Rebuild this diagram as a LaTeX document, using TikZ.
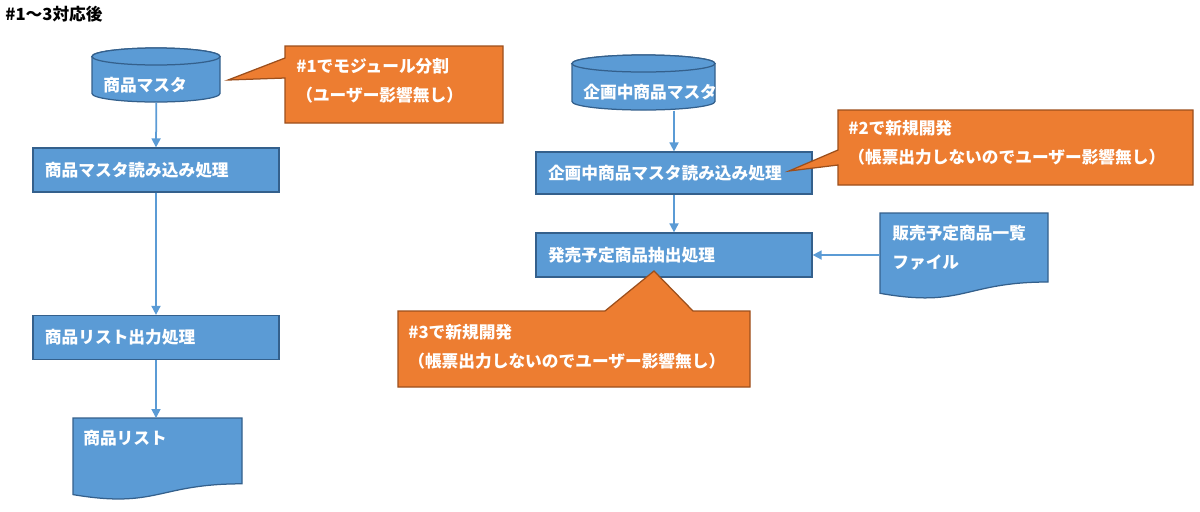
\documentclass[tikz,border=0pt]{standalone}
\usepackage{fontspec}
\setmainfont{Noto Sans CJK JP}
\usepackage{tikz}
\usetikzlibrary{arrows.meta, positioning}
\definecolor{boxblue}{HTML}{5B9BD5}
\definecolor{boxedge}{HTML}{34608C}
\definecolor{noteorange}{HTML}{ED7D31}
\definecolor{noteedge}{HTML}{9C4F1C}
\tikzset{
	every node/.style={
		font=\bfseries\fontsize{9.5}{16.5}\selectfont,
		text=white
	},
	proc/.style={
		shape=rectangle,
		fill=boxblue,
		draw=boxedge,
		line width=0.25mm,
		minimum height=8.8mm,
		inner xsep=2.4mm,
		align=left
	},
	frame/.style={
		shape=rectangle,
		anchor=north west,
		inner ysep=0pt,
		inner xsep=2.2mm,
		align=left
	},
	shapefill/.style={
		fill=boxblue,
		draw=boxedge,
		line width=0.25mm
	},
	notefill/.style={
		fill=noteorange,
		draw=noteedge,
		line width=0.25mm
	},
	flow/.style={
		draw=boxblue,
		line width=0.35mm,
		-{Triangle[length=1.8mm,width=1.8mm]}
	}
}

\begin{document}
\begin{tikzpicture}[x=0.2mm,y=-0.2mm]
	\useasboundingbox (0,0) rectangle (1200,511);
	
	\node[text=black, anchor=west, inner sep=0pt] (title) at (5,14) {\#1〜3対応後};
	
	% left flow
	\filldraw[shapefill] (92,56.5) -- (92,93.5) arc[start angle=180, end angle=360, x radius=12.8mm, y radius=1.7mm]
	-- (220,56.5) arc[start angle=0, end angle=180, x radius=12.8mm, y radius=1.7mm] -- cycle;
	\draw[shapefill] (156,56.5) ellipse[x radius=12.8mm, y radius=1.7mm];
	\node[frame, text width=21.2mm, text height=8.7mm, text depth=2.1mm] (db1) at (92,48) {商品マスタ};
	
	\node[proc, text width=44.4mm] (lp1) at (156,170) {商品マスタ読み込み処理};
	\node[proc, text width=44.4mm] (lp2) at (156,337.5) {商品リスト出力処理};
	
	\filldraw[shapefill] (73,418) -- (242,418) -- (242,483.8)
	.. controls (157.5,483.8) and (157.5,508.8) .. (73,494.6) -- cycle;
	\node[frame, inner xsep=2mm, text width=29.8mm, text height=5.3mm, text depth=11.1mm] (doc1) at (73,418) {商品リスト};
	
	\draw[flow] (db1.south) -- (lp1.north);
	\draw[flow] (lp1.south) -- (lp2.north);
	\draw[flow] (lp2.south) -- (lp2.south |- doc1.north);
	
	% right flow
	\filldraw[shapefill] (572,63.5) -- (572,101.5) arc[start angle=180, end angle=360, x radius=14.3mm, y radius=1.7mm]
	-- (715,63.5) arc[start angle=0, end angle=180, x radius=14.3mm, y radius=1.7mm] -- cycle;
	\draw[shapefill] (643.5,63.5) ellipse[x radius=14.3mm, y radius=1.7mm];
	\node[frame, text width=24.2mm, text height=8.7mm, text depth=2.3mm] (db2) at (572,55) {企画中商品マスタ};
	
	\node[proc, text width=50.4mm, minimum height=8.4mm] (rp1) at (674,173) {企画中商品マスタ読み込み処理};
	\node[proc, text width=50.4mm] (rp2) at (674,255) {発売予定商品抽出処理};
	
	\filldraw[shapefill] (880,213) -- (1048,213) -- (1048,282)
	.. controls (964,282) and (964,308.2) .. (880,293.3) -- cycle;
	\node[frame, inner xsep=2.4mm, text width=28.8mm, text height=5.3mm, text depth=11.9mm] (doc2) at (880,213) {販売予定商品一覧\\ファイル};
	
	\draw[flow] (db2.south -| rp1.north) -- (rp1.north);
	\draw[flow] (rp1.south) -- (rp2.north);
	\draw[flow] (doc2.west |- rp2.east) -- (rp2.east);
	
	% callouts
	\filldraw[notefill] (285,46) -- (503,46) -- (503,123) -- (285,123) -- (285,78) -- (228,80) -- (285,58) -- cycle;
	\node[frame, text width=39.2mm, text height=5.3mm, text depth=10.1mm] (c1) at (285,46) {\#1でモジュール分割\\（ユーザー影響無し）};
	
	\filldraw[notefill] (838,110) -- (1193,110) -- (1193,185) -- (838,185) -- (838,165) -- (789,171) -- (838,150) -- cycle;
	\node[frame, inner xsep=2mm, text width=67mm, text height=4.9mm, text depth=10.1mm] (c2) at (838,110) {\#2で新規開発\\（帳票出力しないのでユーザー影響無し）};
	
	\filldraw[notefill] (398,311) -- (605,311) -- (654,271) -- (693,311) -- (750,311) -- (750,387) -- (398,387) -- cycle;
	\node[frame, inner xsep=2mm, text width=66.4mm, text height=5.5mm, text depth=9.7mm] (c3) at (398,311) {\#3で新規開発\\（帳票出力しないのでユーザー影響無し）};
\end{tikzpicture}
\end{document}
